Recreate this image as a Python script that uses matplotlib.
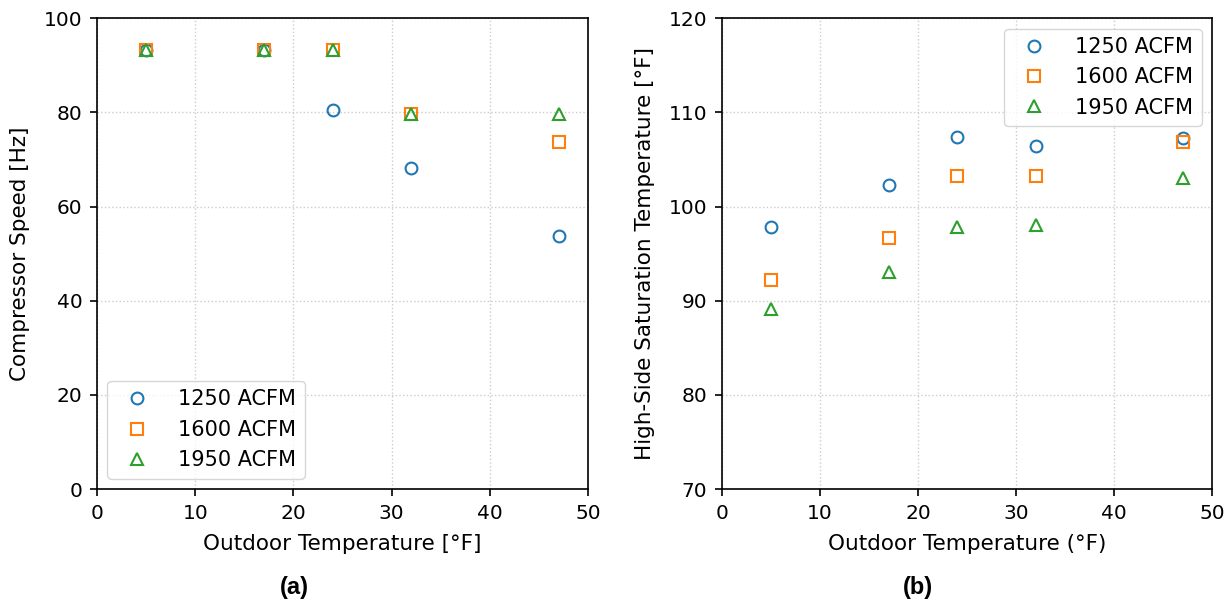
import numpy as np
import matplotlib.pyplot as plt
from matplotlib import font_manager

# temperaturas exteriores [°F]
t_out = [5, 17, 24, 32, 47]
caudales = ['1250 ACFM', '1600 ACFM', '1950 ACFM']

# velocidad del compresor [Hz]
speed_1250 = [93.3, 93.3, 80.6, 68.2, 53.8]
speed_1600 = [93.3, 93.3, 93.3, 79.7, 73.8]
speed_1950 = [93.3, 93.3, 93.3, 79.7, 79.7]

# temperatura de saturacion lado alta [°F]
tsat_1250 = [97.8, 102.3, 107.4, 106.4, 107.3]
tsat_1600 = [92.2, 96.7, 103.2, 103.2, 106.9]
tsat_1950 = [89.1, 93.0, 97.8, 98.0, 103.0]

colores = ['#1f77b4', '#ff7f0e', '#2ca02c']
marcas = ['o', 's', '^']

# fuente tipo Arial negrita para (a) y (b)
archivo = [f for f in font_manager.findSystemFonts() if f.endswith('LiberationSans-Bold.ttf')]
if archivo:
    fp_letra = font_manager.FontProperties(fname=archivo[0], size=17)
else:
    fp_letra = font_manager.FontProperties(family='Roboto', weight='bold', size=17)

fig = plt.figure(figsize=(12.28, 6.06), dpi=100)
ax1 = fig.add_axes([0.079, 0.193, 0.400, 0.777])
ax2 = fig.add_axes([0.588, 0.193, 0.399, 0.777])

for ys, c, m, lab in zip([speed_1250, speed_1600, speed_1950], colores, marcas, caudales):
    ax1.plot(t_out, ys, linestyle='none', marker=m, markersize=8.5, mfc='none',
             mec=c, mew=1.5, label=lab)
for ys, c, m, lab in zip([tsat_1250, tsat_1600, tsat_1950], colores, marcas, caudales):
    ax2.plot(t_out, ys, linestyle='none', marker=m, markersize=8.5, mfc='none',
             mec=c, mew=1.5, label=lab)

ax1.set_xlim(0, 50)
ax1.set_ylim(0, 100)
ax1.set_xlabel('Outdoor Temperature [°F]', fontsize=15.5, labelpad=8)
ax1.set_ylabel('Compressor Speed [Hz]', fontsize=15.5, labelpad=10)
ax1.legend(loc='lower left', fontsize=15, handletextpad=1.0)

ax2.set_xlim(0, 50)
ax2.set_ylim(70, 120)
ax2.set_xlabel('Outdoor Temperature (°F)', fontsize=15.5, labelpad=8)
ax2.set_ylabel('High-Side Saturation Temperature [°F]', fontsize=15.5, labelpad=10)
ax2.legend(loc='upper right', fontsize=15, handletextpad=1.0)

for ax in (ax1, ax2):
    ax.grid(True, linestyle=':', color='#cccccc', linewidth=1)
    ax.tick_params(labelsize=14.5, width=1.2, length=5, pad=5.5)
    for s in ax.spines.values():
        s.set_linewidth(1.2)

fig.text(0.2395, 0.031, '(a)', ha='center', va='center', fontproperties=fp_letra)
fig.text(0.7475, 0.031, '(b)', ha='center', va='center', fontproperties=fp_letra)

fig.savefig('out.png', dpi=100)
